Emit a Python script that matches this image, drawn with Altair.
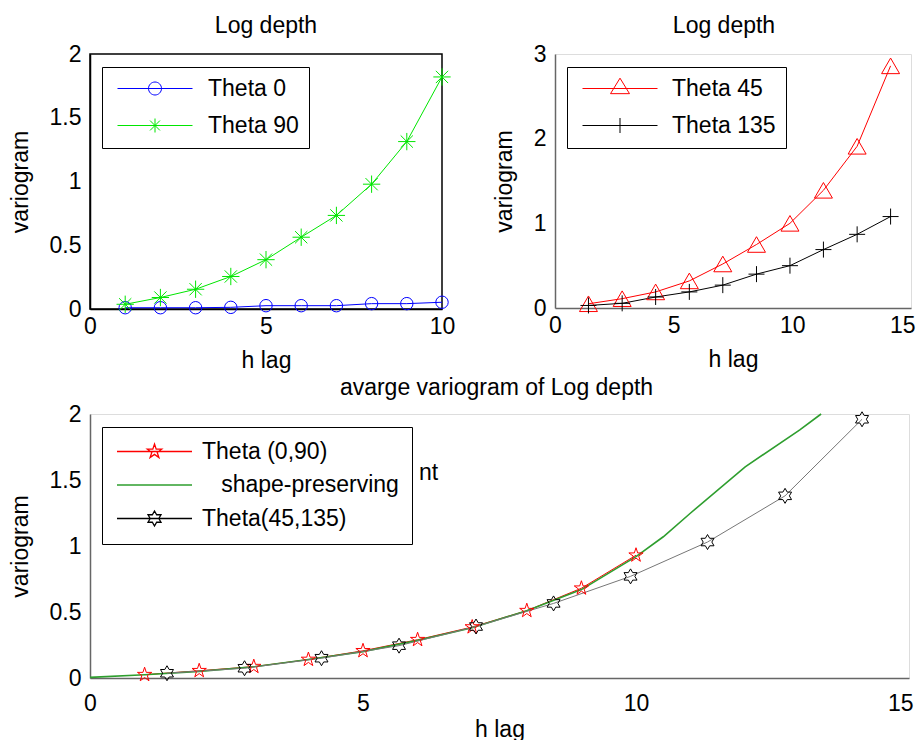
import math
import altair as alt
import pandas as pd

FONT = "Liberation Sans, Arial, sans-serif"

# ---------------- data ----------------
lag_h = [1, 2, 3, 4, 5, 6, 7, 8, 9, 10]
theta_0 = [0.010, 0.010, 0.010, 0.013, 0.026, 0.026, 0.026, 0.042, 0.042, 0.053]
theta_90 = [0.037, 0.090, 0.155, 0.255, 0.387, 0.563, 0.734, 0.979, 1.313, 1.820]

lag_diag = [1.41, 2.83, 4.24, 5.66, 7.07, 8.49, 9.90, 11.31, 12.73, 14.14]
theta_45 = [0.05, 0.11, 0.19, 0.32, 0.52, 0.75, 1.00, 1.39, 1.91, 2.86]
theta_135 = [0.03, 0.055, 0.13, 0.19, 0.27, 0.40, 0.50, 0.69, 0.87, 1.08]

avg_0_90 = [0.025, 0.055, 0.086, 0.14, 0.206, 0.29, 0.386, 0.51, 0.68, 0.93]
avg_45_135 = [0.036, 0.074, 0.15, 0.245, 0.39, 0.565, 0.77, 1.03, 1.38, 1.96]
interp_h = [0, 1, 2, 3, 4, 5, 6, 7, 8, 9, 10, 10.5, 11, 12, 13, 13.39]
interp_v = [0.005, 0.025, 0.05, 0.085, 0.14, 0.2, 0.285, 0.38, 0.51, 0.67, 0.92,
            1.07, 1.25, 1.60, 1.88, 2.0]

title_top = "Log depth"
title_bottom = "avarge variogram of Log depth"
x_title = "h lag"
y_title = "variogram"
ticks_10 = [0, 5, 10]
ticks_15 = [0, 5, 10, 15]
ticks_y2 = [0, 0.5, 1, 1.5, 2]
ticks_y3 = [0, 1, 2, 3]

# zero-width char keeps the leading (non-collapsing) spaces of this label
SHAPE_NAME = "\u200b" + "\u00a0" * 3 + "shape-preserving"


# ---------------- marker geometry ----------------
def num(v):
    s = f"{v:.3f}".rstrip("0").rstrip(".")
    return "0" if s in ("", "-0") else s


def circle_path(r):
    a, b = num(r), num(-r)
    return f"M{a},0A{a},{a} 0 1,1 {b},0A{a},{a} 0 1,1 {a},0Z"


def star_path(n, r_out, ratio):
    pts = []
    for k in range(2 * n):
        ang = math.radians(-90 + k * 180 / n)
        rad = r_out if k % 2 == 0 else r_out * ratio
        pts.append((rad * math.cos(ang), rad * math.sin(ang)))
    return "M" + "L".join(f"{num(x)},{num(y)}" for x, y in pts) + "Z"


def asterisk_path(r):
    d = r * 0.7071
    return (f"M{num(-r)},0H{num(r)}M0,{num(-r)}V{num(r)}"
            f"M{num(-d)},{num(-d)}L{num(d)},{num(d)}M{num(-d)},{num(d)}L{num(d)},{num(-d)}")


def plus_path(r):
    return f"M{num(-r)},0H{num(r)}M0,{num(-r)}V{num(r)}"


def triangle_path(w, h):
    return f"M0,{num(-2 * h / 3)}L{num(w / 2)},{num(h / 3)}L{num(-w / 2)},{num(h / 3)}Z"


LINE = "M-3.75,0H3.75"   # legend sample line, 10 px per unit


def axis(values, title, color, pad_label, pad_title, last=None):
    extra = {}
    if last is not None:
        extra["labelAlign"] = {"condition": {"test": f"datum.value === {last}", "value": "right"},
                               "value": "center"}
        extra["labelOffset"] = {"condition": {"test": f"datum.value === {last}", "value": 4},
                                "value": 0}
    return alt.Axis(values=values, format="~f", ticks=False, grid=False,
                    domainColor=color, domainWidth=1.5, labelFlush=False,
                    labelPadding=pad_label, titlePadding=pad_title, labelFontSize=23,
                    titleFontSize=23, labelFont=FONT, titleFont=FONT,
                    titleFontWeight="normal", labelColor="black",
                    titleColor="black", labelOverlap=False, title=title, **extra)


def panel(series, xdom, xticks, ydom, yticks, width, height, title, title_dx,
          title_off, xpads, leg, axis_color, boxed, last=None, extras=()):
    xe = alt.X("h:Q", scale=alt.Scale(domain=xdom, nice=False, zero=False),
               axis=axis(xticks, x_title, axis_color, xpads[0], xpads[1], last))
    ye = alt.Y("v:Q", scale=alt.Scale(domain=ydom, nice=False, zero=False),
               axis=axis(yticks, y_title, axis_color, 9, 17))
    layers = []
    frames = []
    for s in series:
        df = pd.DataFrame({"h": s["x"], "v": s["y"], "series": s["name"]})
        frames.append(df)
        layers.append(alt.Chart(df).mark_line(
            color=s["line_color"], strokeWidth=s.get("lw", 1)).encode(x=xe, y=ye))
    for s, df in zip(series, frames):
        if s.get("marker"):
            layers.append(alt.Chart(df).mark_point(
                shape=s["marker"], size=s["msize"], filled=False,
                color=s["color"], strokeWidth=1, opacity=1).encode(x=xe, y=ye))
    names = [s["name"] for s in series]
    lg = alt.Legend(title=None, orient="none", legendX=leg["x"], legendY=leg["y"],
                    strokeColor="black", fillColor="white", padding=leg["pad"],
                    symbolSize=400, symbolStrokeWidth=leg.get("sw", 1),
                    symbolFillColor="transparent",
                    symbolOffset=leg["sym_off"], labelOffset=leg["lab_off"],
                    rowPadding=leg["row_pad"], labelFontSize=23, labelFont=FONT,
                    labelColor="black", labelLimit=500)
    legend_layer = alt.Chart(pd.concat(frames)).mark_point(filled=False, opacity=1).encode(
        x=xe, y=ye,
        color=alt.Color("series:N", scale=alt.Scale(domain=names, range=[s["color"] for s in series]),
                        legend=lg),
        shape=alt.Shape("series:N", scale=alt.Scale(domain=names, range=[s["legend_shape"] for s in series]),
                        legend=lg),
    ).transform_filter("false")
    layers.extend(extras)
    layers.append(legend_layer)
    props = dict(width=width, height=height,
                 title=alt.TitleParams(title, fontSize=23, font=FONT, fontWeight="normal",
                                       baseline="bottom", frame="group", offset=title_off,
                                       dx=title_dx, color="black", anchor="middle"))
    if boxed:
        props["view"] = alt.ViewBackground(stroke="black", strokeWidth=1.5)
    return alt.layer(*layers).properties(**props)


# ---------------- panels ----------------
top_left = panel(
    [dict(name="Theta 0", x=lag_h, y=theta_0, color="#0000ff", line_color="#0000ff",
          marker="circle", msize=154,
          legend_shape=LINE + circle_path(0.65)),
     dict(name="Theta 90", x=lag_h, y=theta_90, color="#00e600", line_color="#00e600",
          marker=asterisk_path(1), msize=300,
          legend_shape=LINE + asterisk_path(0.7))],
    [0, 10], ticks_10, [0, 2], ticks_y2, 352, 255, title_top, 0, -18, (6, 11),
    dict(x=12, y=13, pad=10, sym_off=31.5, lab_off=41.5, row_pad=13),
    "black", True)

top_right = panel(
    [dict(name="Theta 45", x=lag_diag, y=theta_45, color="#ff0000", line_color="#ff0000",
          marker="triangle-up", msize=324,
          legend_shape=LINE + triangle_path(1.9, 1.55)),
     dict(name="Theta 135", x=lag_diag, y=theta_135, color="#000000", line_color="#000000",
          marker=plus_path(1), msize=256,
          legend_shape=LINE + plus_path(0.75))],
    [0, 15], ticks_15, [0, 3], ticks_y3, 356, 254, title_top, -9, -18, (6, 11),
    dict(x=12, y=13, pad=10, sym_off=31.5, lab_off=40.5, row_pad=13),
    "#666666", False, last=15)

nt_text = alt.Chart(pd.DataFrame({"t": ["nt"]})).mark_text(
    align="left", baseline="middle", fontSize=23, font=FONT, color="black"
).encode(x=alt.value(329), y=alt.value(59), text="t:N")

bottom = panel(
    [dict(name="Theta (0,90)", x=lag_h, y=avg_0_90, color="#ff0000", line_color="#ff0000",
          marker=star_path(5, 1, 0.382), msize=225,
          legend_shape=LINE + star_path(5, 0.75, 0.382)),
     dict(name=SHAPE_NAME, x=interp_h, y=interp_v, color="#2e9e2e",
          line_color="#2e9e2e", lw=1.6, marker=None, msize=0, legend_shape=LINE),
     dict(name="Theta(45,135)", x=lag_diag, y=avg_45_135, color="#000000",
          line_color="#777777", marker=star_path(6, 1, 0.577), msize=225,
          legend_shape=LINE + star_path(6, 0.75, 0.577))],
    [0, 15], ticks_15, [0, 2], ticks_y2, 819, 264, title_bottom, -3, -20, (14, 3),
    dict(x=12, y=13, pad=13, sym_off=28, lab_off=36, row_pad=9.5, sw=1.3),
    "#666666", False, last=15, extras=[nt_text])

top_row = alt.hconcat(top_left, top_right, spacing=113, bounds="flush").resolve_scale(
    color="independent", shape="independent").resolve_legend(
    color="independent", shape="independent")

chart = alt.vconcat(top_row, bottom, spacing=3).resolve_scale(
    color="independent", shape="independent").resolve_legend(
    color="independent", shape="independent").properties(
    padding={"left": 0, "top": 6, "right": 0, "bottom": 0}
).configure_view(stroke=None).configure(font=FONT)

chart.save("out.html", embed_options={"renderer": "svg", "actions": False})
